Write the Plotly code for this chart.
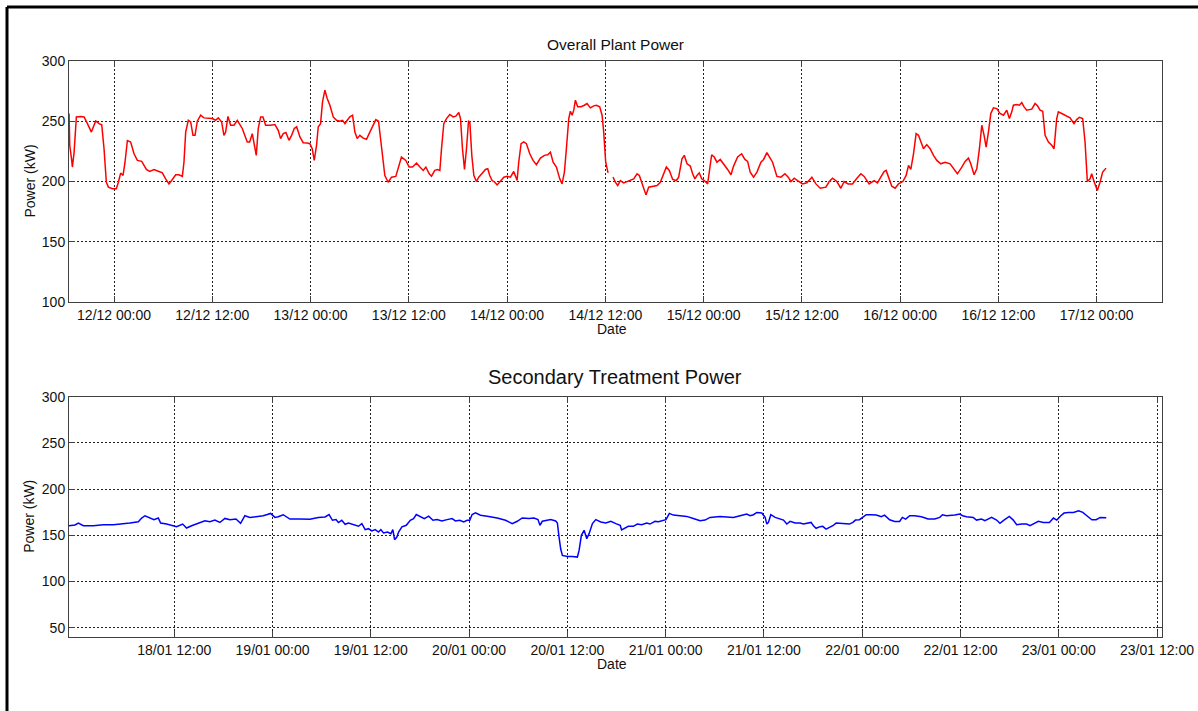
import plotly.graph_objects as go
import pandas as pd

# ---------------- data ----------------
# Overall plant power: hours since 12/12 00:00, power in kW (None = gap in record)
plant_hours = [-5.49, -5.41, -5.17, -5.09, -4.88, -4.6, -4.07, -3.66, -3.25, -2.77, -2.24, -1.83, -1.5, -1.22,
               -0.94, -0.69, -0.2, 0.28, 0.53, 0.81, 1.1, 1.34, 1.63, 2.03, 2.44, 2.85, 3.38, 3.95, 4.35, 4.88,
               5.49, 5.9, 6.3, 6.71, 7.12, 7.53, 7.93, 8.34, 8.54, 8.75, 9.07, 9.36, 9.64, 9.89, 10.17, 10.58,
               10.98, 11.6, 12.0, 12.4, 12.73, 13.14, 13.42, 13.63, 13.91, 14.24, 14.65, 15.05, 15.66, 16.27,
               16.56, 16.88, 17.17, 17.37, 17.61, 17.9, 18.19, 18.51, 19.12, 19.65,
               20.05, 20.34, 20.66, 20.99, 21.36, 21.68, 22.01, 22.3, 22.7, 23.1, 23.59, 23.92, 24.2, 24.45,
               24.73, 24.94, 25.22, 25.46, 25.75, 26.03, 26.36, 26.77, 27.17, 27.58, 27.91, 28.2, 28.48, 28.8,
               29.13, 29.41, 29.7, 30.02, 30.43, 30.83, 31.24, 31.65, 31.97, 32.3, 32.54, 32.79, 33.07, 33.48,
               33.88, 34.41, 34.7, 35.1, 35.63, 36.04, 36.45, 36.94, 37.35, 37.76, 38.08, 38.49, 38.77, 39.17,
               39.5, 39.79, 39.99, 40.27, 40.6, 41.0, 41.41, 41.74, 42.1, 42.31, 42.55, 42.8, 43.04, 43.29,
               43.45, 43.69, 43.94, 44.26, 44.54, 44.95, 45.36, 45.64, 45.88, 46.17, 46.5, 46.78, 47.19, 47.6,
               48.0, 48.41, 48.81, 49.02, 49.22, 49.42, 49.71, 50.03, 50.36, 50.77, 51.17, 51.58, 52.07, 52.56,
               52.96, 53.29, 53.62, 54.02, 54.43, 54.71, 55.0, 55.24, 55.53, 55.73, 55.94, 56.14, 56.34, 56.62,
               57.03, 57.44, 57.76, 58.17, 58.58, 58.9, 59.31, 59.6, 59.8, 60.04, 60.33, 60.6, 60.94, 61.22,
               61.51, 61.83, 62.24, 62.65, 63.05, 63.46, 63.87, 64.15, 64.4, 64.68, 64.96, 65.29, 65.7, 66.31,
               66.71, 67.12, 67.45, 67.81, 68.22, 68.67, 68.95, 69.36, 69.64, 69.97, 70.37, 70.66, 70.94, 71.19,
               71.47, 71.76, 72.08, 72.49, 72.73, 72.98, 73.3, 73.63, 74.03, 74.44, 74.93, 75.34, 75.66, 76.15,
               76.64, 77.04, 77.37, 77.69, 78.1, 78.51, 79.0, 79.32, 79.73, 80.05, 80.42, 80.95, 81.44, 81.93,
               82.33, 82.66, 83.06, 83.47, 84.08, 84.61, 85.22, 85.71, 86.24, 86.93, 87.34, 87.74, 88.27, 88.76,
               89.16, 89.65, 90.18, 90.67, 91.2, 91.6, 92.21, 92.82, 93.23, 93.63, 94.04, 94.29, 94.58, 94.98,
               95.39, 95.8, 96.33, 96.73, 97.02, 97.3, 97.63, 97.95, 98.24, 98.52, 98.85, 99.25, 99.66, 100.07,
               100.48, 100.96, 101.49, 102.1, 102.51, 102.99, 103.53, 103.93, 104.34, 104.62, 105.03, 105.36,
               105.68, 105.97, 106.25, 106.5, 106.78, 107.07, 107.39, 107.8, 108.2, 108.61, 109.02, 109.34,
               109.63, 109.83, 110.24, 110.56, 110.85, 111.13, 111.46, 112.07, 112.48, 112.77, 113.09, 113.41,
               113.7, 114.11, 114.51, 114.79, 115.12, 115.32, 115.73, 116.26, 116.75, 117.23, 117.56, 117.89,
               118.29, 118.58, 118.86, 119.19, 119.39, 119.68, 120.08, 120.41, 120.73, 121.14]
plant_kw = [256.4, 230, 217.5, 212, 224, 253.6, 254, 253.6, 248, 241, 250.3, 248, 247, 227,
            199.4, 195.3, 194, 194, 199.4, 207, 205, 216, 234, 232.8, 223, 217.5, 216.7, 210, 208.3, 210,
            208.3, 207.2, 202.2, 198, 201.7, 205.6, 205.6, 204.2, 216, 241, 250.8, 249.4, 238.3, 238.3, 250, 255,
            252.8, 252.8, 252.2, 250.8, 252.8, 249.4, 238.3, 241, 254, 246.7, 246.7, 250.8, 244, 232.8,
            232.8, 239.7, 227.2, 221.7, 244, 253.6, 253.6, 246.7, 246.7, 247.2,
            242.5, 235.6, 239.7, 240.6, 234.2, 238.3, 244, 245.4, 237, 232.2, 231.9, 231.4, 227.2, 217.5,
            230, 245.4, 248, 266, 275.8, 268.9, 263.3, 253.6, 250.8, 250, 250.8, 248, 250.8, 253.6,
            255, 241, 235.6, 238.3, 236, 235, 241, 246.7, 251.4, 250, 235.6, 219, 205, 199.4,
            203.6, 204.2, 210.6, 220.3, 217.5, 212, 212, 215.3, 212, 209.2, 212, 206.4, 204.4, 209.2,
            210, 209.2, 227.2, 248, 252.2, 255.6, 253.6, 254.2, 257.2, 252.2, 227.2, 210, 227.2, 250,
            249.4, 221.7, 205, 200, 203.6, 206.4, 210, 210.6, 205, 200.8, 199.4, 197.2, 200, 203.6,
            204.4, 203.6, 208.3, 205, 200.8, 216, 231.4, 232.8, 231.4, 223, 217.5, 213.9, 219.4, 221.7,
            222.2, 224.4, 216, 212, 202.2, 198, 207.8, 227.2, 252.2, 258.3, 255, 259.2, 267.5, 262,
            262, 263.3, 264.7, 261.1, 262.8, 263.3, 262, 255, 241, 216, 207.2, None, 203.6, 199.4,
            196.7, 200.8, 198.9, 200, 200.8, 202.2, 206.4, 205, 200, 194.4, 188.9, 195.3, 196.1, 196.7,
            199.4, 205.6, 212, 209.2, 201.7, 200.8, 203.6, 218.9, 221.7, 214.7, 212.8, 206.4, 202.2, 205,
            207.2, 202.2, 200.8, 198, 212, 222.2, 220.3, 216, 218.3, 214.7, 210, 205.6, 212.8, 220.3,
            223, 218.3, 216.7, 207.8, 203.6, 207.8, 216, 218.3, 223.9, 220.3, 216, 204.2, 203.6, 206.4,
            203.6, 200, 202.7, 200.8, 198, 198.9, 203.6, 198, 194.4, 195.3, 200, 202.7, 200, 194.4,
            200, 198, 198, 202.2, 206.4, 204.2, 198, 200.8, 198.9, 203.6, 208.3, 209.2, 203.6, 196.1,
            194.4, 198, 200, 205, 213.3, 210, 223, 239.7, 238.3, 232.8, 227.2, 230.6, 227.2, 221.7,
            217.5, 214.7, 216, 214.7, 211.1, 206.4, 212, 216.7, 219.4, 214.7, 205.6, 210.6,
            227.2, 246.7, 238.3, 228.6, 241, 256.4, 261.1, 260.5, 256.4, 255, 259.2, 252.2,
            257.8, 263.3, 263.9, 263.3, 265.5, 261.9, 259.2, 260, 264.7, 262.8, 259.2, 258.3,
            238.3, 232.8, 230, 227.2, 252.2, 257.8, 256.4, 254.2, 252.8, 248, 251.4, 253.3,
            252.2, 232.8, 200, 202.2, 206.4, 200, 192.5, 199.4, 207.8, 211.1]

# Secondary treatment power: hours since 18/01 00:00, power in kW
sec_hours = [-0.855, -0.12, 0.29, 0.9, 2.11, 3.34, 4.56, 5.78, 6.59, 7.61, 8.02, 8.42, 9.03, 9.52, 10.05,
             10.33, 11.06, 11.67, 12.28, 13.02, 13.5, 14.12, 14.93, 15.74, 16.35, 16.96, 17.57, 18.18, 18.79,
             19.53, 20.1, 20.62, 21.23, 22.05, 22.86, 23.27, 23.76, 24.29, 24.69, 25.3, 26.12, 27.34, 28.56,
             29.59, 30.41, 30.9, 31.31, 31.75, 32.04, 32.45, 32.86, 33.27, 33.88, 34.49, 34.9, 35.31, 35.71,
             36.12, 36.53, 36.94, 37.22, 37.55, 38.04, 38.45, 38.69, 38.9, 39.18, 39.39, 39.8, 40.33, 40.82,
             41.22, 41.55, 42.04, 42.53, 43.06, 43.59, 44.08, 44.69, 45.31, 45.92, 46.33, 46.86, 47.35, 47.76,
             48.08, 48.37, 48.78, 49.39, 50.21, 51.43, 52.45, 53.27, 53.88, 54.49, 55.31, 55.92, 56.41, 56.65,
             56.94, 57.55, 57.96, 58.57, 58.78, 58.98, 59.18, 59.39, 60.0, 60.61, 61.22, 61.43, 61.71, 62.04,
             62.37, 62.65, 63.06, 63.47, 64.08, 64.69, 65.31, 65.92, 66.45, 66.62, 67.44, 68.05, 68.54, 69.07,
             69.68, 70.09, 70.7, 71.11, 71.72, 72.04, 72.45, 72.94, 73.75, 74.57, 75.38, 76.2, 76.81, 77.42,
             78.64, 79.66, 80.27, 81.09, 81.9, 82.31, 82.72, 83.13, 83.74, 84.15, 84.35, 84.55, 84.84, 85.37,
             85.98, 86.39, 86.79, 87.2, 87.81, 88.42, 88.82, 89.35, 89.76, 90.04, 90.37, 90.86, 91.18, 91.59,
             92.08, 92.41, 92.82, 93.63, 94.45, 94.86, 95.18, 95.67, 96.08, 96.49, 97.1, 97.71, 98.33, 98.73,
             99.35, 99.96, 100.57, 100.9, 101.31, 101.8, 102.41, 103.23, 104.04, 104.86, 105.47, 105.8, 106.29,
             106.9, 107.31, 107.92, 108.25, 108.74, 109.55, 109.96, 110.57, 110.98, 111.8, 112.41, 112.82,
             113.31, 113.96, 114.45, 114.86, 115.47, 116.08, 116.49, 117.1, 117.51, 118.12, 118.86, 119.35,
             119.76, 120.25, 120.65, 121.18, 121.8, 122.41, 122.94, 123.43, 124.04, 124.57, 125.06, 125.8]
sec_kw = [160.4, 161.2, 163.3, 160.4, 160.4, 161.5, 161.5, 162.2, 163.3, 164.7, 168.7, 171.2, 168.7, 166.9, 168.7,
          163.3, 162.2, 160.4, 159.4, 162.2, 157.9, 160.4, 163, 165.8, 164.7, 166.5, 163.9, 168.3, 166.9,
          167.6, 163, 171.2, 169.4, 170.1, 171.2, 172.3, 173.7, 169.4, 170.1, 172.3, 167.6, 167.6, 167.4,
          169.2, 169.9, 172.5, 166.3, 167, 163.8, 166.3, 162, 163.4, 162, 159.8, 162.7, 156.2, 157.2,
          154.7, 156.2, 153.6, 156.2, 152.5, 153.6, 151.8, 156.2, 145.3, 148.2, 153.6, 159.1, 160.9, 166.3,
          168.1, 172.5, 169.9, 168.1, 170.7, 166.3, 167, 165.6, 167, 168.1, 165.6, 166.3, 164.5, 166.3,
          166.3, 172.5, 174.3, 171.7, 170.7, 168.8, 166.3, 162.7, 165.2, 168.8, 168.1, 168.8, 167, 160.9,
          165.2, 166.3, 167, 165.6, 163.4, 148.2, 135.5, 128.3, 127.2, 127.2, 126.5, 133.7, 150, 155.4,
          146.4, 151.8, 162.7, 167, 164.5, 163.4, 165.2, 162.7, 160.9, 155.8, 159.7, 159.7, 162.2, 161.5,
          163.3, 162.2, 165.1, 164.7, 166.5, 166.9, 173.7, 171.9, 171.2, 170.5, 168.3, 165.8, 166.5, 169.4,
          170.5, 170.1, 169.4, 171.2, 173, 171.2, 172.3, 174.8, 174.1, 169.4, 162.2, 164, 172.3, 169.4,
          167.6, 166.5, 162.2, 165.1, 163.3, 163.3, 162.2, 163, 164, 160.4, 157.6, 159.4, 159.7, 156.8,
          158.6, 160.4, 163.3, 163, 162.2, 164, 166.5, 166.9, 169.4, 172.3, 172.3, 171.9, 170.1, 171.9,
          166.9, 165.1, 165.1, 169.4, 167.6, 171.2, 171.2, 170.1, 167.6, 167.6, 169.4, 172.3, 171.2,
          171.2, 171.9, 173, 171.2, 170.1, 169.4, 166.5, 167.6, 165.8, 169.4, 166.5, 163,
          166.5, 170.5, 166.5, 161.5, 162.2, 162.2, 160.4, 163, 165.1, 164, 164, 168.7,
          166.5, 171.2, 174.1, 174.8, 174.8, 176.6, 174.8, 171.2, 166.9, 166.9, 169.4, 169]

plant_start = "2012-12-12 00:00"
sec_start = "2013-01-18 00:00"
plant_tick_hours = [0, 12, 24, 36, 48, 60, 72, 84, 96, 108, 120]
sec_tick_hours = [12, 24, 36, 48, 60, 72, 84, 96, 108, 120, 132]
plant_x_range_hours = [-5.5, 127.94]
sec_x_range_hours = [-0.855, 132.57]
plant_y_range = [100, 300]
sec_y_range = [40, 300]
plant_y_ticks = [100, 150, 200, 250, 300]
sec_y_ticks = [50, 100, 150, 200, 250, 300]

# ---------------- build ----------------
W, H = 1198, 711
FONT = "Liberation Sans, Arial, sans-serif"


def to_time(base, hours):
    b = pd.Timestamp(base)
    return [b + pd.Timedelta(hours=h) for h in hours]


fig = go.Figure()
fig.add_trace(go.Scatter(x=to_time(plant_start, plant_hours), y=plant_kw, mode="lines",
                         line=dict(color="#ff0000", width=1.5), xaxis="x", yaxis="y",
                         connectgaps=False, showlegend=False))
fig.add_trace(go.Scatter(x=to_time(sec_start, sec_hours), y=sec_kw, mode="lines",
                         line=dict(color="#0000ff", width=1.5), xaxis="x2", yaxis="y2",
                         showlegend=False))

L, R = 69, 1161.7
t1_top, t1_bot = 61, 302
t2_top, t2_bot = 396.7, 637


def px(x):
    return x / W


def py(y):
    return 1 - y / H


axis_common = dict(
    showline=True, linecolor="#404040", linewidth=1, mirror="ticks",
    ticks="inside", ticklen=6, tickcolor="#404040",
    showgrid=True, gridcolor="#202020", gridwidth=1, griddash="2px,2px",
    zeroline=False, automargin=False,
    tickfont=dict(family=FONT, size=14, color="#111111"),
)

fig.update_layout(
    width=W, height=H, autosize=False,
    margin=dict(l=0, r=0, t=0, b=0, pad=0, autoexpand=False),
    paper_bgcolor="white", plot_bgcolor="white",
    font=dict(family=FONT, color="#111111"),
    xaxis=dict(domain=[px(L), px(R)], anchor="y", type="date",
               range=to_time(plant_start, plant_x_range_hours),
               tickvals=to_time(plant_start, plant_tick_hours),
               tickformat="%d/%m %H:%M", **axis_common),
    yaxis=dict(domain=[py(t1_bot), py(t1_top)], anchor="x", range=plant_y_range,
               tickvals=plant_y_ticks, **axis_common),
    xaxis2=dict(domain=[px(L), px(R)], anchor="y2", type="date",
                range=to_time(sec_start, sec_x_range_hours),
                tickvals=to_time(sec_start, sec_tick_hours),
                tickformat="%d/%m %H:%M", **axis_common),
    yaxis2=dict(domain=[py(t2_bot), py(t2_top)], anchor="x2", range=sec_y_range,
                tickvals=sec_y_ticks, **axis_common),
)

cx = (L + R) / 2
ann = [
    dict(text="Overall Plant Power", x=px(cx), y=py(44), size=15.5),
    dict(text="Secondary Treatment Power", x=px(cx), y=py(377), size=20),
    dict(text="Date", x=px(612), y=py(329), size=14),
    dict(text="Date", x=px(612), y=py(664), size=14),
]
for a in ann:
    fig.add_annotation(text=a["text"], x=a["x"], y=a["y"], xref="paper", yref="paper",
                       xanchor="center", yanchor="middle", showarrow=False,
                       font=dict(family=FONT, size=a["size"], color="#111111"))
for yc in [(t1_top + t1_bot) / 2, (t2_top + t2_bot) / 2]:
    fig.add_annotation(text="Power (kW)", x=px(29), y=py(yc), xref="paper", yref="paper",
                       xanchor="center", yanchor="middle", showarrow=False, textangle=-90,
                       font=dict(family=FONT, size=14, color="#111111"))

# outer black frame (top and left edges)
fig.add_shape(type="line", xref="paper", yref="paper", x0=px(7), x1=1.01, y0=py(7), y1=py(7),
              line=dict(color="black", width=3))
fig.add_shape(type="line", xref="paper", yref="paper", x0=px(7), x1=px(7), y0=py(7), y1=-0.01,
              line=dict(color="black", width=3))

page_js = ("document.documentElement.style.margin='0';document.body.style.margin='0';"
           "document.documentElement.style.overflow='hidden';document.body.style.overflow='hidden';")
fig.write_html("out.html", post_script=page_js, config={"displayModeBar": False})
